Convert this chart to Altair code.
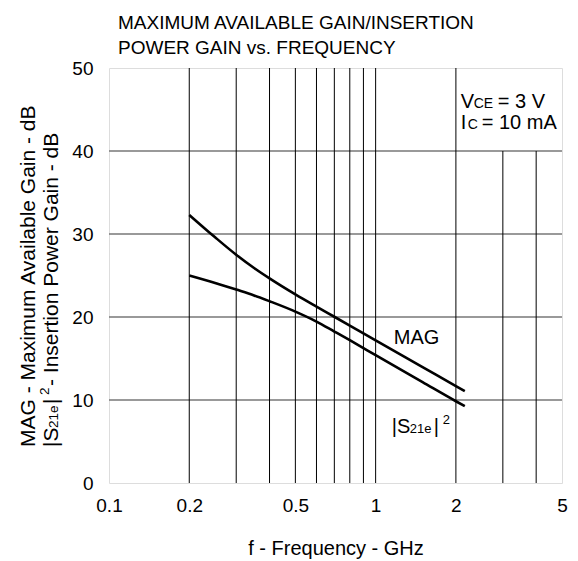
import altair as alt
import pandas as pd

# ---- data ----
mag_f = [0.2, 0.25, 0.3, 0.35, 0.4, 0.5, 0.6, 0.7, 0.8, 0.9, 1.0, 1.5, 2.0, 2.16]
mag_db = [32.3, 29.6, 27.5, 25.9, 24.65, 22.72, 21.25, 20.03, 18.97, 18.03, 17.19, 13.97, 11.68, 11.07]
s21_f = [0.2, 0.25, 0.3, 0.35, 0.4, 0.5, 0.6, 0.7, 0.8, 0.9, 1.0, 1.5, 2.0, 2.16]
s21_db = [25.0, 24.1, 23.3, 22.6, 21.9, 20.65, 19.45, 18.25, 17.2, 16.25, 15.4, 12.15, 9.85, 9.25]

x_ticks = [0.1, 0.2, 0.5, 1, 2, 5]
y_ticks = [0, 10, 20, 30, 40, 50]
vgrid_full = [0.2, 0.3, 0.4, 0.5, 0.6, 0.7, 0.8, 0.9, 1, 2]
vgrid_low = [3, 4]
hgrid = [10, 20, 30, 40]

title_lines = ["MAXIMUM AVAILABLE GAIN/INSERTION", "POWER GAIN vs. FREQUENCY"]
x_title = "f - Frequency - GHz"

FONT = "Liberation Sans"
W, H = 453, 415
XD = [0.1, 5]
YD = [0, 50]

xs = alt.Scale(type="log", domain=XD, nice=False)
ys = alt.Scale(domain=YD, nice=False)

curves = pd.DataFrame({
    "f": mag_f + s21_f,
    "g": mag_db + s21_db,
    "s": ["MAG"] * len(mag_f) + ["S21"] * len(s21_f),
})

vg = pd.DataFrame({
    "f": vgrid_full + vgrid_low,
    "lo": [0] * len(vgrid_full) + [0] * len(vgrid_low),
    "hi": [50] * len(vgrid_full) + [40] * len(vgrid_low),
})
hg = pd.DataFrame({"g": hgrid, "f0": [XD[0]] * len(hgrid), "f1": [XD[1]] * len(hgrid)})

xaxis = alt.Axis(values=x_ticks, labelExpr="format(datum.value, '~g')", title=x_title,
                 grid=False, ticks=False, domain=False, labelFontSize=19, labelFont=FONT,
                 labelColor="black", labelPadding=13, titleFontSize=20, titleFont=FONT,
                 titleFontWeight="normal", titleColor="black", titlePadding=23,
                 labelFlush=False)
yaxis = alt.Axis(values=y_ticks, title=None, grid=False, ticks=False, domain=False,
                 labelFontSize=19, labelFont=FONT, labelColor="black", labelPadding=16)

vrules = alt.Chart(vg).mark_rule(color="black", strokeWidth=1).encode(
    x=alt.X("f:Q", scale=xs, axis=xaxis),
    y=alt.Y("lo:Q", scale=ys, axis=yaxis),
    y2="hi:Q",
)
hrules = alt.Chart(hg).mark_rule(color="#777777", strokeWidth=1.6).encode(
    x=alt.X("f0:Q", scale=xs), x2="f1:Q", y=alt.Y("g:Q", scale=ys)
)
lines = alt.Chart(curves).mark_line(color="black", strokeWidth=2.6, interpolate="monotone").encode(
    x=alt.X("f:Q", scale=xs), y=alt.Y("g:Q", scale=ys), detail="s:N"
)

layers = [hrules, vrules, lines]

def txt(data_xy, text, size, dx=0, dy=0, align="left", baseline="alphabetic"):
    d = pd.DataFrame({"f": [data_xy[0]], "g": [data_xy[1]], "t": [text]})
    return alt.Chart(d).mark_text(font=FONT, fontSize=size, color="black", align=align,
                                  baseline=baseline, dx=dx, dy=dy).encode(
        x=alt.X("f:Q", scale=xs), y=alt.Y("g:Q", scale=ys), text="t:N")

# curve labels
layers.append(txt((1.17, 16.7), "MAG", 20))
lab = (1.15, 6.0)
layers += [
    txt(lab, "|S", 20, dx=0),
    txt(lab, "21e", 13, dx=18),
    txt(lab, "|", 20, dx=42),
    txt(lab, "2", 13, dx=51, dy=-9),
]
# condition box text
cpos = (2.05, 45.2)
cpos2 = (2.05, 42.6)
layers += [
    txt(cpos, "V", 20, dx=2),
    txt(cpos, "CE", 14, dx=15),
    txt(cpos, "= 3 V", 20, dx=39),
    txt(cpos2, "I", 20, dx=2),
    txt(cpos2, "C", 14, dx=9),
    txt(cpos2, "= 10 mA", 20, dx=23),
]

# rotated y-axis title (pixel positions relative to plot area)
def rtxt(px, py, text, size):
    d = pd.DataFrame({"a": [0]})
    return alt.Chart(d).mark_text(font=FONT, fontSize=size, color="black", align="left",
                                  baseline="alphabetic", angle=270).encode(
        x=alt.value(px), y=alt.value(py), text=alt.value(text))

y0 = 379
layers += [
    rtxt(-74, y0, "MAG - Maximum Available Gain - dB", 21),
    rtxt(-51, y0, "|S", 21),
    rtxt(-51, y0 - 19, "21e", 13.5),
    rtxt(-51, y0 - 43, "|", 21),
    rtxt(-60, y0 - 52, "2", 13.5),
    rtxt(-51, y0 - 61, " - Insertion Power Gain - dB", 21),
]

chart = alt.layer(*layers).properties(
    width=W, height=H,
    title=alt.TitleParams(title_lines, anchor="start", frame="group", dx=9, fontSize=19,
                          font=FONT, fontWeight="normal", color="black", lineHeight=25.5,
                          offset=1),
    autosize=alt.AutoSizeParams(type="none"),
    padding={"left": 101, "top": 60, "right": 8, "bottom": 78},
).configure_view(stroke="black", strokeWidth=2).configure(background="white")

chart.save("out.html", embed_options={"renderer": "svg", "actions": False})
